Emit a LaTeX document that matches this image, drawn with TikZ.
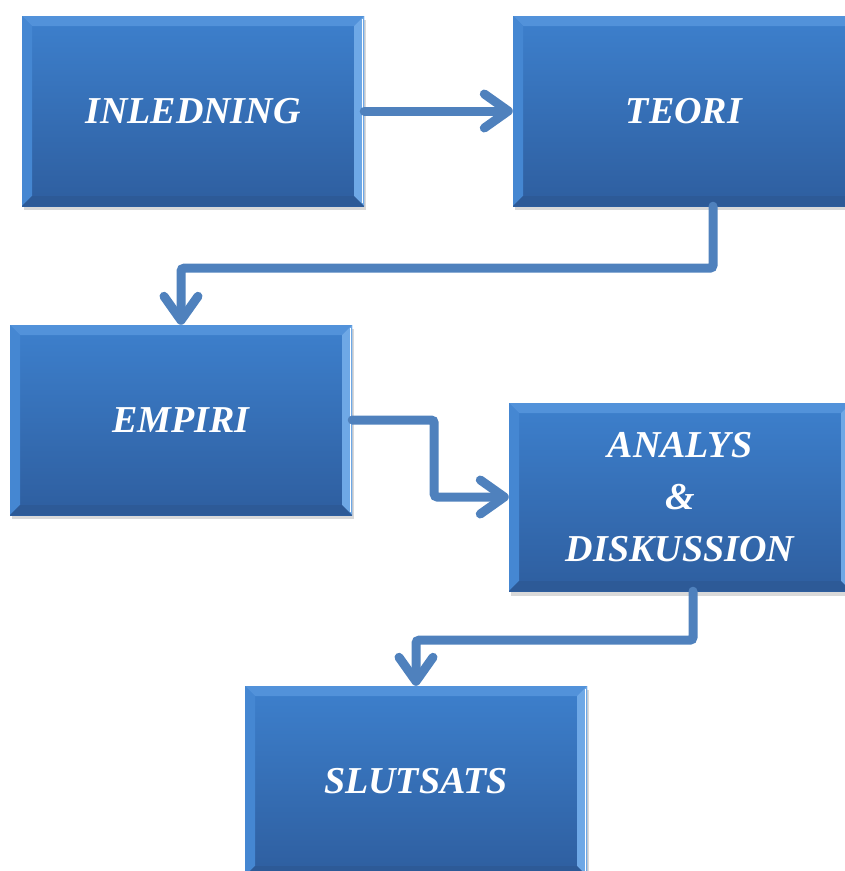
\documentclass[tikz,border=0pt]{standalone}
\usepackage{fontspec}
\setmainfont{Liberation Serif}
\usetikzlibrary{arrows.meta,calc}
\definecolor{boxtop}{HTML}{3D80CD}
\definecolor{boxbot}{HTML}{2E5E9F}
\definecolor{bevtop}{HTML}{5292DA}
\definecolor{bevleft}{HTML}{4587D2}
\definecolor{bevright}{HTML}{6EA8E6}
\definecolor{bevbot}{HTML}{2D5A97}
\definecolor{conncol}{HTML}{4F81BD}
\newcommand{\bvw}{10pt}
\tikzset{
  boxst/.style={rectangle, minimum width=342pt, minimum height=190pt, inner sep=0pt,
    top color=boxtop, bottom color=boxbot, text=white, align=center,
    font=\bfseries\itshape\fontsize{38}{52}\selectfont,
    path picture={
      \coordinate (NW) at (path picture bounding box.north west);
      \coordinate (NE) at (path picture bounding box.north east);
      \coordinate (SW) at (path picture bounding box.south west);
      \coordinate (SE) at (path picture bounding box.south east);
      \fill[bevtop] (NW) -- (NE) -- ([xshift=-\bvw,yshift=-\bvw]NE) -- ([xshift=\bvw,yshift=-\bvw]NW) -- cycle;
      \fill[bevleft] (NW) -- ([xshift=\bvw,yshift=-\bvw]NW) -- ([xshift=\bvw,yshift=\bvw]SW) -- (SW) -- cycle;
      \fill[bevright] (NE) -- ([xshift=-\bvw,yshift=-\bvw]NE) -- ([xshift=-\bvw,yshift=\bvw]SE) -- (SE) -- cycle;
      \fill[bevbot] (SW) -- ([xshift=\bvw,yshift=\bvw]SW) -- ([xshift=-\bvw,yshift=\bvw]SE) -- (SE) -- cycle;
      \draw[white, line width=1.2pt] ([xshift=-1.5pt,yshift=-3pt]NE) -- ([xshift=-1.5pt,yshift=3pt]SE);
    }},
  shadowst/.style={fill=black, opacity=0.15, rectangle, minimum width=342pt, minimum height=190pt, inner sep=0pt},
  conn/.style={draw=conncol, line width=9pt, rounded corners=3pt, line cap=round,
    -{Straight Barb[round, length=24pt, width=34pt, line width=9pt]}},
}
\begin{document}
\begin{tikzpicture}[x=1pt, y=-1pt]
\useasboundingbox (0,0) rectangle (845,871);
% shadows
\foreach \cx/\cy in {193/111, 684/111, 181/420, 680/497, 416/781}
  \node[shadowst] at (\cx+2,\cy+4) {};
\node[boxst] (inl) at (193,111) {INLEDNING};
\node[boxst] (teori) at (684,111) {TEORI};
\node[boxst] (empiri) at (181,420) {EMPIRI};
\node[boxst, minimum height=188pt] (analys) at (680,497) {ANALYS\\\&\\DISKUSSION};
\node[boxst] (slut) at (416,781) {SLUTSATS};
\draw[conn] (inl.east) -- (teori.west);
\draw[conn] ([xshift=29pt]teori.south) -- ++(0,62) -| (empiri.north);
\draw[conn] (empiri.east) -- ++(82,0) |- (analys.west);
\draw[conn] ([xshift=13pt]analys.south) -- ++(0,49) -| (slut.north);
\end{tikzpicture}
\end{document}
